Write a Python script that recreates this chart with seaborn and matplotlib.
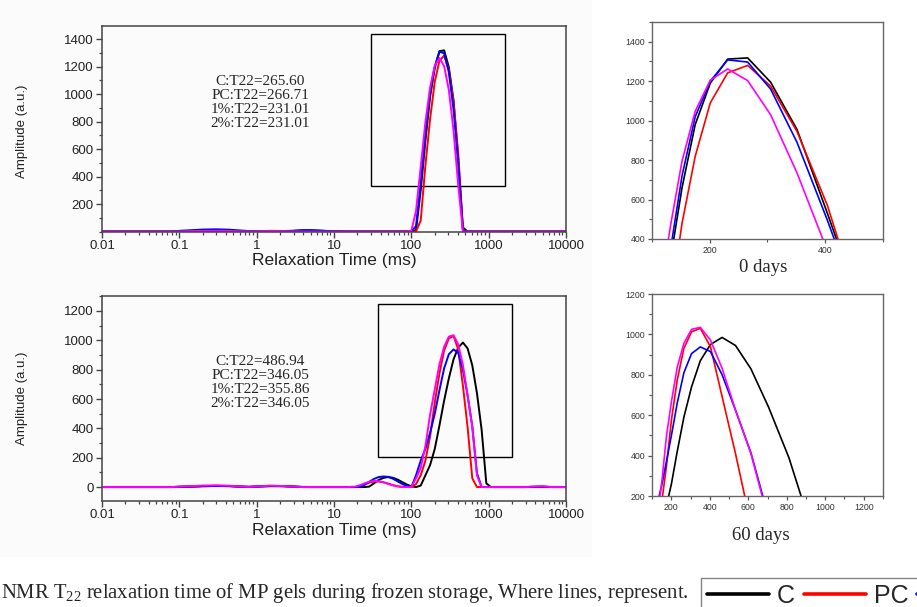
import numpy as np
import pandas as pd
import matplotlib
matplotlib.use('Agg')
import matplotlib.pyplot as plt
from matplotlib.patches import Rectangle
from matplotlib.lines import Line2D
from matplotlib.ticker import MultipleLocator, LogLocator, NullFormatter
import seaborn as sns

# T2 relaxation times (ms) shared by every curve
t2_ms = [0.01, 0.08, 0.1, 0.15, 0.2, 0.3, 0.45, 0.6, 0.8, 1.0,
         1.5, 2.2, 3.0, 4.0, 5.0, 7.0, 10.0, 15.0, 18.74, 21.54,
         24.77, 28.48, 32.75, 37.65, 43.29, 49.77, 57.22, 65.79, 75.65, 86.97,
         100.0, 115.0, 132.2, 152.0, 174.8, 200.9, 231.0, 265.6, 305.4, 351.1,
         403.7, 464.2, 533.7, 613.6, 705.5, 811.1, 932.6, 1072.3, 1500, 3000,
         4000, 5000, 6500, 10000]

# 0 days of frozen storage
day0_c = [0, 0, 2, 5, 7, 8, 6, 3, 1, 0,
          2, 3, 4, 8, 8, 5, 1, 0, 0, 0,
          0, 0, 0, 0, 0, 0, 0, 0, 0, 0,
          0, 10, 300, 660, 980, 1190, 1312, 1318, 1195, 955,
          530, 30, 0, 0, 0, 0, 0, 0, 0, 0,
          0, 0, 0, 0]
day0_pc = [0, 0, 0, 1, 2, 3, 2, 1, 0, 2,
           5, 4, 2, 1, 2, 1, 0, 0, 0, 0,
           0, 0, 0, 0, 0, 0, 0, 0, 0, 0,
           0, 0, 80, 480, 819, 1090, 1242, 1280, 1175, 945,
           570, 10, 0, 0, 0, 0, 0, 0, 0, 0,
           0, 0, 0, 0]
day0_1pct = [0, 0, 5, 10, 14, 16, 13, 8, 3, 1,
             1, 3, 6, 10, 10, 6, 2, 0, 0, 0,
             0, 0, 0, 0, 0, 0, 0, 0, 0, 0,
             0, 40, 350, 720, 1020, 1200, 1308, 1297, 1160, 890,
             495, 10, 0, 0, 0, 0, 0, 0, 0, 0,
             0, 0, 0, 0]
day0_2pct = [0, 0, 1, 3, 4, 5, 4, 2, 1, 1,
             3, 2, 1, 0, 0, 0, 0, 0, 0, 0,
             0, 0, 0, 0, 0, 0, 0, 0, 0, 0,
             5, 150, 470, 795, 1047, 1205, 1262, 1203, 1030, 735,
             340, 0, 0, 0, 0, 0, 0, 0, 0, 0,
             0, 0, 0, 0]

# 60 days of frozen storage
day60_c = [0, 0, 2, 5, 7, 8, 7, 4, 2, 3,
           6, 6, 4, 1, 0, 0, 0, 0, 0, 0,
           0, 3, 25, 48, 62, 68, 64, 52, 35, 18,
           5, 0, 10, 80, 150, 260, 420, 590, 740, 870,
           950, 985, 945, 830, 640, 390, 25, 0, 0, 0,
           0, 0, 0, 0]
day60_pc = [0, 0, 0, 2, 5, 8, 6, 2, 1, 5,
            9, 6, 2, 0, 0, 0, 0, 0, 0, 5,
            18, 30, 38, 38, 33, 24, 14, 6, 1, 0,
            0, 20, 80, 180, 345, 576, 774, 931, 1013, 1030,
            939, 692, 410, 60, 0, 0, 0, 0, 0, 0,
            0, 0, 0, 0]
day60_1pct = [0, 0, 2, 4, 6, 7, 6, 3, 1, 3,
              7, 6, 3, 0, 0, 0, 0, 0, 0, 2,
              15, 35, 55, 68, 72, 70, 58, 40, 22, 8,
              0, 80, 180, 260, 370, 500, 660, 810, 905, 938,
              915, 800, 625, 415, 95, 0, 0, 0, 0, 0,
              3, 4, 0, 0]
day60_2pct = [0, 0, 3, 7, 10, 12, 9, 4, 1, 4,
              9, 7, 3, 0, 0, 0, 0, 0, 3, 12,
              25, 36, 42, 40, 33, 22, 12, 5, 1, 0,
              0, 60, 130, 279, 494, 667, 837, 956, 1025, 1035,
              972, 832, 626, 411, 80, 0, 0, 0, 0, 0,
              4, 6, 0, 0]

samples = ['C', 'PC', '1%', '2%']
colors = ['#000000', '#ff0000', '#0000ff', '#ff00ff']
day0_t22 = ['265.60', '266.71', '231.01', '231.01']
day60_t22 = ['486.94', '346.05', '355.86', '346.05']
decade_ticks = [0.01, 0.1, 1, 10, 100, 1000, 10000]
decade_labels = ['0.01', '0.1', '1', '10', '100', '1000', '10000']
# zoom boxes drawn on the main plots (T2 range, amplitude range)
day0_box = (30, 1650, 329, 1438)
day60_box = (37, 2030, 204, 1247)

W, H = 917, 607


def px_box(left, top, right, bottom):
    # axes rect in figure fractions from pixel edges
    return [left / W, 1 - bottom / H, (right - left) / W, (bottom - top) / H]


def long_frame(series):
    frames = []
    for name, amp in zip(samples, series):
        frames.append(pd.DataFrame({'t2': t2_ms, 'amplitude': amp, 'sample': name}))
    return pd.concat(frames, ignore_index=True)


def draw_lines(ax, df, lw):
    sns.lineplot(data=df, x='t2', y='amplitude', hue='sample', hue_order=samples,
                 palette=colors, legend=False, ax=ax, linewidth=lw,
                 estimator=None, sort=False)
    ax.set_xlabel('')
    ax.set_ylabel('')


def style_main(ax, ylim, yticks, box):
    ax.set_xscale('log')
    ax.set_xlim(0.01, 10000)
    ax.set_ylim(*ylim)
    ax.set_xticks(decade_ticks, decade_labels)
    ax.xaxis.set_minor_locator(LogLocator(base=10, subs=np.arange(2, 10)))
    ax.xaxis.set_minor_formatter(NullFormatter())
    ax.set_yticks(yticks)
    ax.yaxis.set_minor_locator(MultipleLocator(100))
    ax.tick_params(which='major', direction='out', length=4, width=1, colors='#444',
                   labelcolor='#222', labelsize=9.5, pad=2)
    ax.tick_params(which='minor', direction='out', length=2.2, width=0.9, colors='#444')
    for s in ax.spines.values():
        s.set_visible(True)
        s.set_color('#444')
        s.set_linewidth(1.1)
    ax.set_facecolor('none')
    x0, x1, y0, y1 = box
    ax.add_patch(Rectangle((x0, y0), x1 - x0, y1 - y0, fill=False, ec='black', lw=1.0))


def style_inset(ax, xlim, xticks, ylim, yticks):
    ax.set_xlim(*xlim)
    ax.set_ylim(*ylim)
    ax.set_xticks(xticks)
    ax.set_yticks(yticks)
    ax.xaxis.set_minor_locator(MultipleLocator(100))
    ax.yaxis.set_minor_locator(MultipleLocator(100))
    ax.tick_params(which='major', direction='out', length=3, width=0.9, colors='#555',
                   labelcolor='#333', labelsize=6.3, pad=2)
    ax.tick_params(which='minor', direction='out', length=2, width=0.8, colors='#555')
    for s in ax.spines.values():
        s.set_visible(True)
        s.set_color('#666')
        s.set_linewidth(1.0)


sns.set_style('ticks')
plt.rcParams['font.family'] = ['Liberation Sans', 'DejaVu Sans']
plt.rcParams['mathtext.default'] = 'regular'

fig = plt.figure(figsize=(W / 100, H / 100), dpi=100)
fig.patches.append(Rectangle((0, 1 - 557 / H), 592 / W, 557 / H, transform=fig.transFigure,
                             facecolor='#fbfbfb', edgecolor='none', zorder=-10))

df0 = long_frame([day0_c, day0_pc, day0_1pct, day0_2pct])
df60 = long_frame([day60_c, day60_pc, day60_1pct, day60_2pct])

# main distributions
ax_top = fig.add_axes(px_box(102, 26, 566, 231.5))
draw_lines(ax_top, df0, 1.4)
style_main(ax_top, (0, 1495), range(200, 1401, 200), day0_box)

ax_bot = fig.add_axes(px_box(102, 296, 566, 501))
draw_lines(ax_bot, df60, 1.4)
style_main(ax_bot, (-95, 1302), range(0, 1201, 200), day60_box)

serif = ['Liberation Serif', 'DejaVu Serif']
for t22, yc in [(day0_t22, 102.5), (day60_t22, 382.5)]:
    block = '\n'.join(f'{s}:T22={v}' for s, v in zip(samples, t22))
    fig.text(260 / W, 1 - yc / H, block, ha='center', va='center', fontsize=11,
             family=serif, linespacing=1.1)

for yc in [131, 398.5]:
    fig.text(22 / W, 1 - yc / H, 'Amplitude (a.u.)', rotation=90, ha='center', va='center',
             fontsize=9.5, color='#222')
for yc in [261, 531]:
    fig.text(334 / W, 1 - yc / H, 'Relaxation Time (ms)', ha='center', va='center',
             fontsize=12.5, color='#222')

# zoomed insets (linear axes)
ax_z0 = fig.add_axes(px_box(652, 22, 883, 239))
draw_lines(ax_z0, df0, 1.2)
style_inset(ax_z0, (100, 500), [200, 400], (400, 1500), range(400, 1401, 200))

ax_z60 = fig.add_axes(px_box(652, 294, 883, 496))
draw_lines(ax_z60, df60, 1.2)
style_inset(ax_z60, (100, 1300), range(200, 1201, 200), (200, 1200), range(200, 1201, 200))

fig.text(763 / W, 1 - 268 / H, '0 days', ha='center', va='center', fontsize=13.5, family=serif)
fig.text(761 / W, 1 - 535 / H, '60 days', ha='center', va='center', fontsize=13.5, family=serif)

# caption and the legend strip, cut by the right edge as in the source
fig.text(1 / W, 1 - 593 / H,
         'NMR T$_{22}$ relaxation time of MP gels during frozen storage, Where lines, represent.',
         ha='left', va='center', fontsize=14.9, family=serif)
handles = [Line2D([], [], color=c, lw=2.6) for c in colors]
fig.legend(handles, samples, loc='upper left', bbox_to_anchor=(700.7 / W, 1 - 577.5 / H),
           ncol=4, fontsize=18, frameon=True, fancybox=False, edgecolor='#666',
           handlelength=2.5, handletextpad=0.3, columnspacing=0.35, borderpad=0.25,
           borderaxespad=0)

fig.savefig('out.png', dpi=100)
